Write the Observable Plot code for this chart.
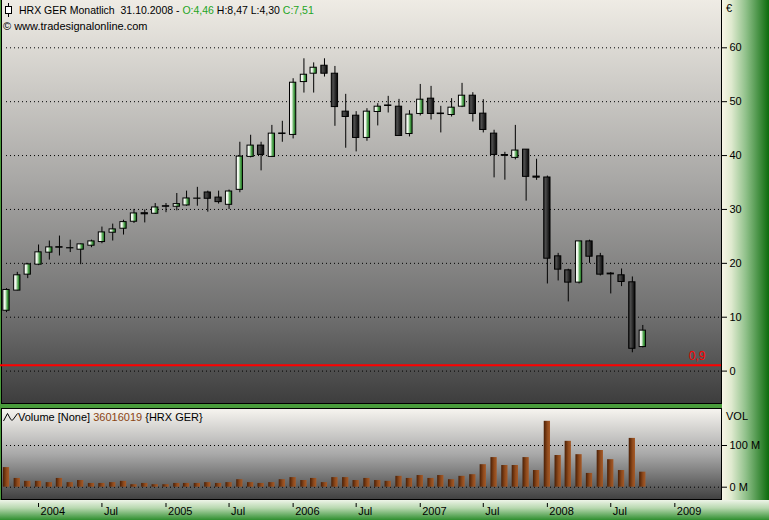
<!DOCTYPE html>
<html><head><meta charset="utf-8">
<script src="https://cdn.jsdelivr.net/npm/d3@7"></script>
<script src="https://cdn.jsdelivr.net/npm/@observablehq/plot@0.6"></script>
<style>
html,body{margin:0;padding:0;background:#fff;}
#chart{position:relative;width:769px;height:520px;overflow:hidden;font-family:"Liberation Sans",Arial,sans-serif;}
#chart svg{display:block;max-width:none;}
</style></head><body><div id="chart"></div>
<script>
// ---------- data ----------
const firstMonth = "2003-10", lastMonthExcl = "2008-11";
const symbol = "HRX GER", period = "Monatlich", lastDateLabel = "31.10.2008";
const watermark = "© www.tradesignalonline.com";
const open  = [11.2,14.94,17.9,19.75,21.98,23.0,22.78,22.53,23.27,23.95,25.68,26.42,27.72,29.3,29.2,
  30.6,30.5,30.74,31.98,33.15,32.2,30.86,33.64,39.75,41.85,39.75,44.1,43.83,53.64,55.19,56.67,55.19,48.15,47.4,43.27,
  48.09,49.3,49.07,44.0,47.72,50.56,47.8,47.53,49.07,51.11,47.78,44.07,40.1,39.57,41.1,36.1,35.93,21.3,18.7,16.42,
  24.07,21.3,18.1,17.78,16.48,4.46];
const high  = [15.3,18.33,20.0,23.4,24.14,25.06,24.3,23.6,24.3,26.73,27.28,28.0,30.0,29.9,31.1,
  31.1,32.96,33.4,34.1,33.4,33.4,33.6,42.47,43.77,42.47,45.6,46.36,54.26,57.96,57.2,57.96,56.54,51.36,48.15,48.7,
  49.63,50.99,50.43,48.33,53.2,52.84,49.14,50.56,53.4,51.67,50.37,44.7,40.6,45.6,41.1,39.32,36.2,21.85,18.9,24.07,
  24.3,21.85,18.3,18.95,17.47,8.47];
const low   = [10.85,14.9,17.16,19.57,20.6,21.36,22.0,19.75,22.9,23.64,24.14,25.25,27.4,27.5,29.07,
  29.4,29.75,30.6,30.6,29.5,31.0,30.0,33.1,39.57,37.16,39.63,42.47,43.09,51.6,51.6,54.57,45.43,41.36,40.68,42.65,
  45.5,47.9,43.6,43.46,47.35,46.6,44.2,47.16,48.9,46.23,44.2,35.86,35.43,39.2,31.54,35.4,16.17,16.73,12.84,16.17,
  20.0,17.65,14.32,15.68,3.4,4.30];
const close = [15.06,17.78,19.8,22.04,22.96,22.9,22.82,23.52,24.07,25.74,26.3,27.65,29.26,29.1,30.37,
  30.5,30.99,32.04,32.02,31.98,31.36,33.33,39.81,41.85,40.12,44.07,44.0,53.52,55.0,56.3,55.19,49.0,47.16,43.27,48.15,
  49.07,49.2,43.64,47.6,50.37,47.72,47.7,48.89,51.11,47.72,44.75,40.12,39.95,40.93,36.05,35.9,20.86,18.83,16.42,24.07,
  21.23,17.9,17.95,16.54,4.14,7.51];
// monthly volume, millions of shares
const volume = [47,21,14,14,11,21,11,16,9,9,11,14,6,9,6,
  6,9,9,9,11,9,11,18,11,9,11,18,23,16,21,11,23,23,16,21,
  16,14,26,21,28,21,28,18,26,30,54,71,52,52,71,40,158,76,110,78,
  33,88,66,40,117,36.016019];
const priceTicks = [0,10,20,30,40,50,60];
const volTicks = [0,100];
const threshold = 0.9;
const xTickMonths = ["2004-01","2004-07","2005-01","2005-07","2006-01","2006-07","2007-01","2007-07","2008-01","2008-07","2009-01"];
const xTickLabels = ["2004","Jul","2005","Jul","2006","Jul","2007","Jul","2008","Jul","2009"];

// ---------- helpers ----------
const parseM = d3.utcParse("%Y-%m");
const months = d3.utcMonth.range(parseM(firstMonth), parseM(lastMonthExcl));
const data = months.map((date, i) => ({date, open: open[i], high: high[i], low: low[i], close: close[i], vol: volume[i]}));
const up = data.filter(d => d.close >= d.open), down = data.filter(d => d.close < d.open);
const xTicks = xTickMonths.map(parseM);
const xFmt = d => xTickLabels[xTicks.findIndex(t => +t === +d)];
const fmt = v => v.toFixed(2).replace(".", ",");
const half = 9 * 864e5;
const bx1 = d => new Date(+d.date - half), bx2 = d => new Date(+d.date + half);
const FONT = "Liberation Sans, Arial, sans-serif";
const GREEN = "#4a9c3c";
const NS = "http://www.w3.org/2000/svg";
function el(tag, attrs = {}, children = []) {
  const e = document.createElementNS(NS, tag);
  for (const [k, v] of Object.entries(attrs)) e.setAttribute(k, v);
  for (const c of children) e.append(c);
  return e;
}
function grad(id, vertical, stops) {
  return el("linearGradient", {id, x1: 0, y1: 0, x2: vertical ? 0 : 1, y2: vertical ? 1 : 0},
    stops.map(([o, c]) => el("stop", {offset: o, "stop-color": c})));
}
const xScale = {type: "utc", domain: [months[0], months[months.length - 1]], range: [6, 642.3], axis: null};
const last = data[data.length - 1];
const TXT = {"font-family": FONT, "text-anchor": "start", style: "white-space:pre"};

// ---------- main price panel ----------
const main = Plot.plot({
  width: 769, height: 404,
  marginLeft: 1, marginRight: 48, marginTop: 0, marginBottom: 1,
  style: {fontFamily: FONT, background: "none", color: "#000", overflow: "visible"},
  x: xScale,
  y: {domain: [0, 60], range: [370.6, 47.3], axis: null},
  marks: [
    () => el("g", {}, [
      el("defs", {}, [
        grad("gMain", true, [[0,"#efece5"],[0.45,"#a8a7a5"],[0.79,"#6e6e6e"],[1,"#3d3d3d"]]),
        grad("gRight", false, [[0,"#f8f5e6"],[0.2,"#dfeacf"],[0.5,"#92c28c"],[1,"#0c6c0c"]]),
        grad("gUp", false, [[0,"#ffffff"],[0.35,"#eef7ea"],[0.7,"#4aa04a"],[1,"#1f6f1f"]]),
        grad("gDown", false, [[0,"#2a2a2a"],[0.3,"#4c4c4c"],[1,"#050505"]])
      ]),
      el("rect", {x: 0, y: 0, width: 769, height: 404, fill: GREEN}),
      el("rect", {x: 722, y: 0, width: 47, height: 404, fill: "url(#gRight)"}),
      el("rect", {x: 1.5, y: -1, width: 720, height: 404.5, fill: "url(#gMain)", stroke: "#000"})
    ]),
    Plot.gridY({ticks: priceTicks, stroke: "#000", strokeOpacity: 1, strokeDasharray: "1 3", insetLeft: 5, insetRight: 1}),
    Plot.ruleY([threshold], {stroke: "#ff0000", strokeWidth: 2, insetLeft: -1, dy: -1}),
    Plot.text([threshold], {y: d => d, text: d => String(d).replace(".", ","), frameAnchor: "right", textAnchor: "end", dx: -16, dy: -10, fill: "#ff0000", fontSize: 12}),
    Plot.ruleX(data, {x: "date", y1: "low", y2: "high", stroke: "#000"}),
    Plot.rect(up, {x1: bx1, x2: bx2, y1: "open", y2: "close", fill: "url(#gUp)", stroke: "#000"}),
    Plot.rect(down, {x1: bx1, x2: bx2, y1: "open", y2: "close", fill: "url(#gDown)", stroke: "#000"}),
    Plot.axisY({anchor: "right", ticks: priceTicks, tickSize: 5, tickPadding: 3, fontSize: 11, label: null, tickFormat: d => String(d)}),
    () => el("g", {}, [
      el("path", {d: "M8.5,3V17", stroke: "#000", fill: "none"}),
      el("rect", {x: 5.5, y: 6.5, width: 6, height: 7, fill: "#fff", stroke: "#000"}),
      el("text", {...TXT, x: 19, y: 14, "font-size": 10.5, fill: "#000"}, [
        `${symbol} ${period}  ${lastDateLabel} - `,
        el("tspan", {fill: "#1fa51f"}, [`O:${fmt(last.open)}`]),
        ` H:${fmt(last.high)} L:${fmt(last.low)} `,
        el("tspan", {fill: "#1fa51f"}, [`C:${fmt(last.close)}`])
      ]),
      el("text", {...TXT, x: 3, y: 30, "font-size": 11, fill: "#000"}, [watermark]),
      el("text", {...TXT, x: 726, y: 12, "font-size": 11, fill: "#000"}, ["€"])
    ])
  ]
});

// ---------- volume panel ----------
const vol = Plot.plot({
  width: 769, height: 116,
  marginLeft: 1, marginRight: 48, marginTop: 4, marginBottom: 20,
  style: {fontFamily: FONT, background: "none", color: "#000", overflow: "visible"},
  x: xScale,
  y: {domain: [0, 100], range: [82.7, 41], axis: null},
  marks: [
    () => el("g", {}, [
      el("defs", {}, [
        grad("gVolBg", true, [[0,"#f7f5f0"],[0.5,"#a9a9a9"],[1,"#404040"]]),
        grad("gRight2", false, [[0,"#f8f5e6"],[0.2,"#dfeacf"],[0.5,"#92c28c"],[1,"#0c6c0c"]]),
        grad("gBottom", true, [[0,"#eef4e8"],[0.4,"#b8d8b0"],[1,"#2f8f2f"]]),
        grad("gVol", false, [[0,"#4a1f05"],[0.6,"#8f4a1c"],[1,"#a55a28"]])
      ]),
      el("rect", {x: 0, y: 0, width: 769, height: 96, fill: GREEN}),
      el("rect", {x: 722, y: 0, width: 47, height: 96, fill: "url(#gRight2)"}),
      el("rect", {x: 1.5, y: 4.5, width: 720, height: 91, fill: "url(#gVolBg)", stroke: "#000"}),
      el("rect", {x: 0, y: 96, width: 769, height: 20, fill: "url(#gBottom)"})
    ]),
    Plot.gridY({ticks: volTicks, stroke: "#000", strokeOpacity: 1, strokeDasharray: "1 3", insetLeft: 5, insetRight: 1}),
    Plot.rect(data, {x1: bx1, x2: bx2, y1: 0, y2: "vol", fill: "url(#gVol)"}),
    Plot.axisY({anchor: "right", ticks: volTicks, tickSize: 5, tickPadding: 3, fontSize: 11, label: null, tickFormat: d => `${d} M`}),
    Plot.axisX({ticks: xTicks, tickFormat: xFmt, tickSize: 4, dy: 3, fill: "none", stroke: "#000", label: null}),
    Plot.axisX({ticks: xTicks, tickFormat: xFmt, tickSize: 0, tickPadding: 7, dx: 2, textAnchor: "start", fontSize: 11, label: null}),
    () => el("g", {}, [
      el("path", {d: "M3.5,17 L7.5,9.5 L10.5,15 Q12,18 13.5,15 L17.5,9.5", stroke: "#000", fill: "none"}),
      el("text", {...TXT, x: 18, y: 16.5, "font-size": 11, fill: "#000"}, [
        "Volume [None] ",
        el("tspan", {fill: "#8b4513"}, [String(Math.round(last.vol * 1e6))]),
        ` {${symbol}}`
      ]),
      el("text", {...TXT, x: 726, y: 15.5, "font-size": 11, fill: "#000"}, ["VOL"])
    ])
  ]
});

const root = document.getElementById("chart");
root.append(main, vol);
</script></body></html>
